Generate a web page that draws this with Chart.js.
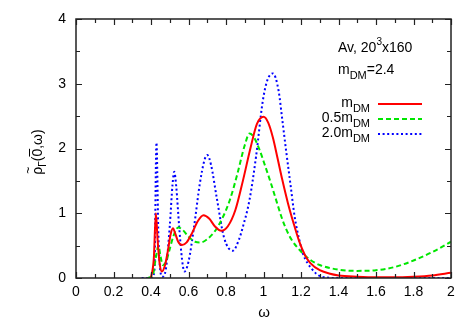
<!DOCTYPE html>
<html><head><meta charset="utf-8">
<script src="https://cdn.jsdelivr.net/npm/chart.js@4.4.0/dist/chart.umd.min.js"></script>
<style>html,body{margin:0;padding:0;background:#fff}#wrap{width:466px;height:327px}</style>
</head><body><div id="wrap"><canvas id="c" width="466" height="327"></canvas></div>
<script>
// series: m_DM (red)
const redW = [0.40,0.415,0.426,0.435,0.445,0.458,0.475,0.49,0.505,0.517,0.53,0.545,0.565,0.59,0.62,0.65,0.68,0.71,0.74,0.775,0.81,0.85,0.89,0.93,0.965,1.0,1.025,1.05,1.075,1.10,1.13,1.16,1.19,1.22,1.25,1.30,1.35,1.40,1.50,1.60,1.70,1.80,1.90,2.00];
const redV = [0,0.3,1.0,0.6,0.25,0.1,0.2,0.42,0.68,0.77,0.68,0.56,0.51,0.55,0.7,0.88,0.97,0.92,0.8,0.73,0.8,1.05,1.5,2.0,2.38,2.49,2.40,2.17,1.85,1.52,1.16,0.85,0.57,0.36,0.23,0.12,0.07,0.04,0.02,0.01,0.01,0.02,0.04,0.08];
// series: 0.5 m_DM (green)
const grnW = [0.38,0.41,0.425,0.44,0.45,0.463,0.48,0.50,0.52,0.545,0.57,0.60,0.635,0.667,0.70,0.74,0.78,0.82,0.86,0.90,0.925,0.95,0.98,1.01,1.04,1.07,1.095,1.12,1.15,1.20,1.25,1.30,1.40,1.50,1.60,1.70,1.80,1.90,2.00];
const grnV = [0,0.05,0.3,0.5,0.35,0.2,0.25,0.45,0.65,0.78,0.74,0.64,0.56,0.55,0.6,0.72,0.92,1.2,1.6,2.05,2.23,2.17,1.97,1.72,1.46,1.18,0.95,0.76,0.59,0.41,0.28,0.2,0.13,0.11,0.12,0.17,0.27,0.4,0.56];
// series: 2.0 m_DM (blue)
const bluW = [0.35,0.40,0.418,0.429,0.44,0.46,0.48,0.50,0.515,0.524,0.535,0.55,0.565,0.578,0.60,0.63,0.66,0.685,0.70,0.72,0.75,0.79,0.836,0.87,0.89,0.925,0.96,0.996,1.02,1.05,1.08,1.10,1.12,1.145,1.166,1.19,1.21,1.255,1.31,1.40,2.00];
const bluV = [0,0,0.1,2.09,0.6,0.02,0.15,0.8,1.45,1.64,1.4,0.8,0.3,0.1,0.25,0.8,1.45,1.82,1.9,1.75,1.25,0.62,0.42,0.6,0.79,1.2,1.87,2.73,3.05,3.16,2.9,2.45,1.98,1.42,0.95,0.6,0.38,0.15,0.02,0,0];

const xMajor = [0,0.2,0.4,0.6,0.8,1,1.2,1.4,1.6,1.8,2];
const xMinor = [0.1,0.3,0.5,0.7,0.9,1.1,1.3,1.5,1.7,1.9];
const yMajor = [0,1,2,3,4];
const yMinor = [0.5,1.5,2.5,3.5];

const legendNames = [["m","DM",""],["0.5m","DM",""],["2.0m","DM",""]];
const colors = ['#ff0000','#00e600','#0000ff'];
const dashes = [[],[5,3],[2,2.6]];

const pts = (w,v)=>w.map((x,i)=>({x:x,y:v[i]}));
const FONT = '"Liberation Sans", Arial, sans-serif';

const deco = {
  id:'deco',
  afterDraw(chart){
    const {ctx, chartArea:a, scales:{x,y}} = chart;
    ctx.save();
    ctx.strokeStyle='#222'; ctx.lineWidth=1.2;
    const tk=(px,len,vert)=>{
      ctx.beginPath();
      if(vert){ ctx.moveTo(px,a.bottom); ctx.lineTo(px,a.bottom-len); ctx.moveTo(px,a.top); ctx.lineTo(px,a.top+len);}
      else { ctx.moveTo(a.left,px); ctx.lineTo(a.left+len,px); ctx.moveTo(a.right,px); ctx.lineTo(a.right-len,px);}
      ctx.stroke();
    };
    xMajor.forEach(v=>tk(Math.round(x.getPixelForValue(v))+0.5,6,true));
    xMinor.forEach(v=>tk(Math.round(x.getPixelForValue(v))+0.5,4,true));
    yMajor.forEach(v=>tk(Math.round(y.getPixelForValue(v))+0.5,6,false));
    yMinor.forEach(v=>tk(Math.round(y.getPixelForValue(v))+0.5,4,false));
    ctx.lineWidth=1.5;
    ctx.strokeRect(a.left,a.top,a.right-a.left,a.bottom-a.top);
    ctx.fillStyle='#000';
    ctx.textBaseline='alphabetic';
    ctx.font='14px '+FONT;
    ctx.textAlign='left';
    let t1='Av, 20'; ctx.fillText(t1,338,52);
    let w1=ctx.measureText(t1).width;
    ctx.font='10px '+FONT; ctx.fillText('3',338+w1,45);
    let w2=ctx.measureText('3').width;
    ctx.font='14px '+FONT; ctx.fillText('x160',338+w1+w2,52);
    ctx.fillText('m',338,74);
    let wm=ctx.measureText('m').width;
    ctx.font='11px '+FONT; ctx.fillText('DM',338+wm,79);
    let wd=ctx.measureText('DM').width;
    ctx.font='14px '+FONT; ctx.fillText('=2.4',338+wm+wd,74);
    const ly=[104,119,134];
    legendNames.forEach((n,i)=>{
      ctx.font='11px '+FONT; const ws=ctx.measureText(n[1]).width;
      ctx.font='14px '+FONT; const wb=ctx.measureText(n[0]).width;
      const right=370;
      ctx.fillText(n[0],right-ws-wb,ly[i]+3);
      ctx.font='11px '+FONT; ctx.fillText(n[1],right-ws,ly[i]+8);
      ctx.beginPath(); ctx.strokeStyle=colors[i]; ctx.lineWidth=2; ctx.setLineDash(dashes[i]);
      ctx.moveTo(378,ly[i]); ctx.lineTo(422,ly[i]); ctx.stroke(); ctx.setLineDash([]);
    });
    ctx.font='15px '+FONT; ctx.textAlign='center';
    ctx.fillText('ω',264,317);
    ctx.translate(42,152); ctx.rotate(-Math.PI/2);
    ctx.textAlign='left';
    ctx.font='14px '+FONT;
    const pr='ρ'; const wr=ctx.measureText(pr).width;
    const sub='Γ'; ctx.font='10px '+FONT; const wsub=ctx.measureText(sub).width;
    ctx.font='14px '+FONT;
    const rest='(0,ω)'; const wrest=ctx.measureText(rest).width;
    const tot=wr+wsub+wrest; let x0=-tot/2;
    ctx.fillText(pr,x0,0);
    ctx.font='12px '+FONT; ctx.fillText('~',x0+1,-10);
    ctx.font='10px '+FONT; ctx.fillText(sub,x0+wr,4);
    ctx.font='14px '+FONT; ctx.fillText(rest,x0+wr+wsub,0);
    const w0=ctx.measureText('(').width, wz=ctx.measureText('0').width;
    ctx.lineWidth=1; ctx.strokeStyle='#000';
    ctx.beginPath(); ctx.moveTo(x0+wr+wsub+w0,-12.5); ctx.lineTo(x0+wr+wsub+w0+wz,-12.5); ctx.stroke();
    ctx.restore();
  }
};

const ds=(label,w,v,i)=>({label,data:pts(w,v),borderColor:colors[i],borderWidth:2,borderDash:dashes[i],pointRadius:0,cubicInterpolationMode:'monotone',fill:false});

new Chart(document.getElementById('c'),{
  type:'line',
  data:{datasets:[ds('m_DM',redW,redV,0),ds('0.5m_DM',grnW,grnV,1),ds('2.0m_DM',bluW,bluV,2)]},
  options:{
    responsive:false,animation:false,
    layout:{padding:{top:19,right:15,left:0,bottom:0}},
    plugins:{legend:{display:false},tooltip:{enabled:false}},
    scales:{
      x:{type:'linear',min:0,max:2,
        afterBuildTicks:s=>{s.ticks=xMajor.map(v=>({value:v}));},
        ticks:{color:'#000',font:{family:FONT,size:14},padding:6,maxRotation:0,callback:v=>String(v)},
        grid:{display:false,drawTicks:false},border:{display:false},
        afterFit:s=>{s.height=49;}},
      y:{type:'linear',min:0,max:4,
        afterBuildTicks:s=>{s.ticks=yMajor.map(v=>({value:v}));},
        ticks:{color:'#000',font:{family:FONT,size:14},padding:10,callback:v=>String(v)},
        grid:{display:false,drawTicks:false},border:{display:false},
        afterFit:s=>{s.width=76;}}
    }
  },
  plugins:[deco]
});
</script></body></html>
